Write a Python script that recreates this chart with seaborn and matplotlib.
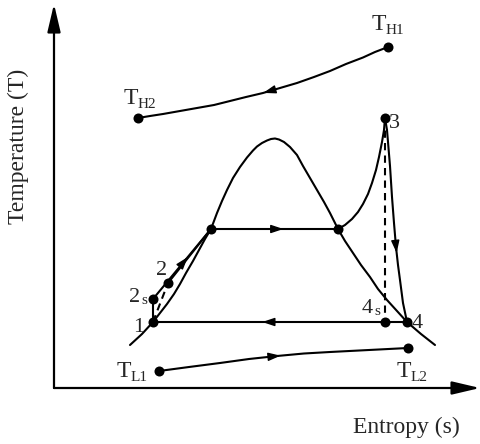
import numpy as np
import matplotlib
matplotlib.use("Agg")
import matplotlib.pyplot as plt
import seaborn as sns

sns.set_style("white")
plt.rcParams["font.family"] = ["Liberation Serif", "DejaVu Serif"]

# drawing units: s to the right, T upward, origin at the axis corner
# heat source line T_H1 -> T_H2
hot_s = [334, 321, 309, 292, 276, 260, 243, 226, 209, 192, 176, 160, 143,
         126, 109, 96, 84]
hot_T = [341, 336, 330.5, 324, 317, 311, 305, 300, 295, 291, 287, 283, 280,
         277, 274, 272, 270]

# heat sink line T_L1 -> T_L2
cold_s = [105, 135, 166, 195, 223, 250, 276, 315, 354]
cold_T = [17, 21, 25, 29, 32, 34.5, 36, 38, 40]

# saturation dome
dome_s = [76, 88, 99, 106, 113, 120, 126, 132, 139, 145, 151, 157, 160, 163,
          168, 173, 179, 186, 193, 199, 203, 208, 213, 217, 221, 225, 230,
          236, 243, 249, 256, 263, 270, 276, 280, 284, 291, 299, 307, 316,
          324, 333, 343, 353, 367, 381]
dome_T = [43, 54, 66, 75, 84, 94, 104, 115, 127, 138, 149, 159, 167, 175,
          187, 198, 210, 221, 230.5, 237.5, 241.5, 245, 247.5, 249, 249.5,
          248.5, 246, 241, 233, 222, 210, 198, 186, 175, 167, 159, 147, 135,
          123, 111, 99, 88, 77, 66, 54, 43]

# superheating (sat. vapour -> 3)
superheat_s = [284, 291, 298, 304, 309, 314, 318, 322, 325, 328, 330, 331]
superheat_T = [159, 163, 169, 176, 184, 194, 205, 218, 231, 246, 258, 270]

# expansion 3 -> 4
expand_s = [331, 333, 336, 338, 340, 342, 344, 346, 349, 353]
expand_T = [270, 258, 222, 191, 165, 141, 123, 108, 85, 66]

# straight segments
pump_s = [99, 99]            # 1 -> 2s
pump_T = [66, 89]
pump_real_s = [99, 114]      # 1 -> 2 (dashed)
pump_real_T = [66, 105]
heat_s_s = [99, 157]         # 2s -> saturated liquid
heat_s_T = [89, 159]
heat_2_s = [114, 157]        # 2 -> saturated liquid
heat_2_T = [105, 159]
evap_s = [157, 284]
evap_T = [159, 159]
cond_s = [353, 99]           # 4 -> 1
cond_T = [66, 66]
isen_s = [331, 331]          # 3 -> 4s (dashed)
isen_T = [270, 66]

# state points
pt_name = ["TH1", "TH2", "TL1", "TL2", "1", "2s", "2", "f", "g", "3", "4s", "4"]
pt_s = [334, 84, 105, 354, 99, 99, 114, 157, 284, 331, 331, 353]
pt_T = [341, 270, 17, 40, 66, 89, 105, 159, 159, 270, 66, 66]

fig = plt.figure(figsize=(4.8, 4.44), dpi=100)
ax = fig.add_axes([0, 0, 1, 1])
ax.set_xlim(-54, 426)
ax.set_ylim(-56, 388)
ax.axis("off")

LW = 1.5


def curve(xs, ys, **kw):
    sns.lineplot(x=xs, y=ys, sort=False, estimator=None, color="black",
                 lw=kw.pop("lw", LW), ax=ax, **kw)


def arrow_on(xs, ys, frac):
    xs = np.asarray(xs, float)
    ys = np.asarray(ys, float)
    seg = np.hypot(np.diff(xs), np.diff(ys))
    cum = np.concatenate([[0], np.cumsum(seg)])
    d = frac * cum[-1]
    i = int(np.clip(np.searchsorted(cum, d) - 1, 0, len(seg) - 1))
    t = (d - cum[i]) / seg[i]
    tip = (xs[i] + t * (xs[i + 1] - xs[i]), ys[i] + t * (ys[i + 1] - ys[i]))
    ux = (xs[i + 1] - xs[i]) / seg[i]
    uy = (ys[i + 1] - ys[i]) / seg[i]
    tail = (tip[0] - ux * 6, tip[1] - uy * 6)
    ax.annotate("", xy=tip, xytext=tail,
                arrowprops=dict(arrowstyle="-|>,head_length=0.75,head_width=0.25",
                                color="black", lw=1.0, shrinkA=0, shrinkB=0,
                                mutation_scale=10))


# axes with arrows
ax.annotate("", xy=(0, 384), xytext=(0, 0),
            arrowprops=dict(arrowstyle="-|>,head_length=1.7,head_width=0.4",
                            color="black", lw=1.6, shrinkA=0, shrinkB=0,
                            mutation_scale=10))
ax.annotate("", xy=(426, 0), xytext=(0, 0),
            arrowprops=dict(arrowstyle="-|>,head_length=1.7,head_width=0.4",
                            color="black", lw=1.6, shrinkA=0, shrinkB=0,
                            mutation_scale=10))

curve(hot_s, hot_T)
curve(cold_s, cold_T)
curve(dome_s, dome_T)
curve(superheat_s, superheat_T)
curve(expand_s, expand_T)
curve(pump_s, pump_T)
curve(pump_real_s, pump_real_T, linestyle=(0, (3.5, 2.5)))
curve(heat_s_s, heat_s_T)
curve(heat_2_s, heat_2_T)
curve(evap_s, evap_T)
curve(cond_s, cond_T)
curve(isen_s, isen_T, linestyle=(0, (3.5, 2.5)))

arrow_on(hot_s, hot_T, 0.51)
arrow_on(cold_s, cold_T, 0.49)
arrow_on(heat_s_s, heat_s_T, 0.6)
arrow_on(evap_s, evap_T, 0.57)
arrow_on(expand_s, expand_T, 0.66)
arrow_on(cond_s, cond_T, 0.57)

sns.scatterplot(x=pt_s, y=pt_T, color="black", s=52, linewidth=0, ax=ax,
                zorder=5, legend=False)

# labels: (main text, subscript, s, T)
FS = 17
SFS = 11


def label(s, T, main, sub=None, dx=14, dy=-4, size=FS):
    ax.text(s, T, main, fontsize=size, ha="left", va="baseline")
    if sub:
        ax.text(s + dx, T + dy, sub, fontsize=SFS, ha="left", va="baseline")


label(318, 358, "T", "H1")
label(70, 284, "T", "H2")
label(63, 11, "T", "L1")
label(343, 11, "T", "L2")
label(79, 56, "1", size=16)
label(75, 86, "2", "s", dx=12, dy=-2, size=16)
label(102, 113, "2", size=16)
label(335, 260, "3", size=16)
label(308, 75, "4", "s", dx=12, dy=-2, size=16)
label(358, 60, "4", size=16)

ax.text(-36, 242, "Temperature (T)", fontsize=FS, rotation=90,
        ha="center", va="center")
ax.text(352, -39, "Entropy (s)", fontsize=FS, ha="center", va="center")

fig.savefig("out.png", dpi=100)
